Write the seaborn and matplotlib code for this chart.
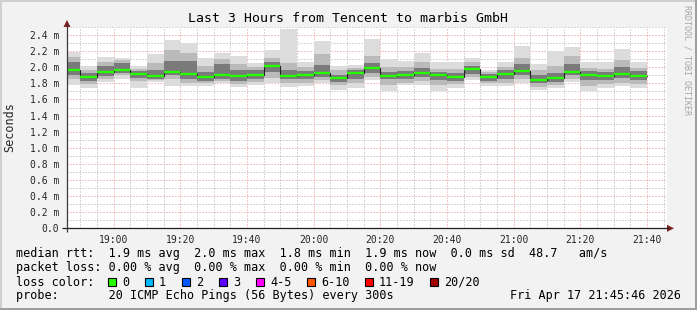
import matplotlib
matplotlib.use("Agg")
import matplotlib.pyplot as plt
import numpy as np
import pandas as pd
import seaborn as sns
from matplotlib.patches import Polygon, Rectangle

# ---------------- data ----------------
title = "Last 3 Hours from Tencent to marbis GmbH"
bin_start = ["18:45", "18:50", "18:55", "19:00", "19:05", "19:10", "19:15",
             "19:20", "19:25", "19:30", "19:35", "19:40", "19:45", "19:50",
             "19:55", "20:00", "20:05", "20:10", "20:15", "20:20", "20:25",
             "20:30", "20:35", "20:40", "20:45", "20:50", "20:55", "21:00",
             "21:05", "21:10", "21:15", "21:20", "21:25", "21:30", "21:35"]
rtt_max = [2.19, 2.01, 2.13, 2.12, 2.01, 2.16, 2.34, 2.30, 2.11, 2.18, 2.14, 2.05,
           2.21, 2.47, 2.07, 2.33, 2.01, 2.03, 2.35, 2.10, 2.08, 2.18, 2.06, 2.06,
           2.12, 1.965, 2.06, 2.26, 2.04, 2.20, 2.25, 2.07, 2.06, 2.23, 2.06]
rtt_p90 = [2.13, 1.97, 2.07, 2.09, 1.98, 2.05, 2.22, 2.18, 2.01, 2.10, 2.04, 2.00,
           2.12, 2.05, 2.00, 2.16, 1.96, 1.99, 2.14, 2.00, 2.00, 2.06, 1.98, 1.98,
           2.06, 1.94, 2.00, 2.12, 1.97, 2.02, 2.14, 1.99, 1.98, 2.09, 1.99]
rtt_p75 = [2.06, 1.93, 2.01, 2.05, 1.95, 1.97, 2.08, 2.08, 1.94, 2.04, 1.97, 1.96,
           2.06, 1.97, 1.95, 2.03, 1.91, 1.96, 2.05, 1.94, 1.95, 1.99, 1.94, 1.93,
           2.02, 1.92, 1.96, 2.04, 1.91, 1.93, 2.04, 1.95, 1.94, 2.00, 1.95]
rtt_median = [1.965, 1.878, 1.944, 1.965, 1.916, 1.891, 1.944, 1.916, 1.878, 1.903,
              1.891, 1.903, 2.015, 1.895, 1.903, 1.932, 1.866, 1.925, 1.990, 1.891,
              1.905, 1.932, 1.905, 1.878, 1.978, 1.878, 1.918, 1.955, 1.842, 1.866,
              1.940, 1.905, 1.891, 1.918, 1.891]
rtt_p25 = [1.90, 1.83, 1.89, 1.93, 1.87, 1.86, 1.90, 1.86, 1.83, 1.86, 1.83, 1.86,
           1.94, 1.85, 1.86, 1.88, 1.82, 1.86, 1.93, 1.85, 1.86, 1.88, 1.84, 1.83,
           1.92, 1.83, 1.86, 1.91, 1.80, 1.82, 1.90, 1.84, 1.84, 1.87, 1.84]
rtt_p10 = [1.85, 1.79, 1.85, 1.90, 1.83, 1.84, 1.86, 1.81, 1.80, 1.83, 1.79, 1.82,
           1.87, 1.81, 1.81, 1.84, 1.78, 1.81, 1.88, 1.78, 1.81, 1.83, 1.78, 1.79,
           1.88, 1.80, 1.81, 1.86, 1.76, 1.78, 1.86, 1.77, 1.79, 1.81, 1.79]
rtt_min = [1.78, 1.74, 1.82, 1.86, 1.74, 1.82, 1.77, 1.77, 1.77, 1.81, 1.75, 1.78,
           1.81, 1.76, 1.77, 1.80, 1.72, 1.74, 1.84, 1.71, 1.78, 1.78, 1.71, 1.74,
           1.84, 1.77, 1.77, 1.81, 1.72, 1.74, 1.82, 1.71, 1.74, 1.77, 1.74]
x_tick_labels = ["19:00", "19:20", "19:40", "20:00", "20:20", "20:40",
                 "21:00", "21:20", "21:40"]
y_ticks = [0.0, 0.2, 0.4, 0.6, 0.8, 1.0, 1.2, 1.4, 1.6, 1.8, 2.0, 2.2, 2.4]
y_tick_labels = ["0.0", "0.2 m", "0.4 m", "0.6 m", "0.8 m", "1.0 m", "1.2 m",
                 "1.4 m", "1.6 m", "1.8 m", "2.0 m", "2.2 m", "2.4 m"]
y_label = "Seconds"
legend_rows = [
    "median rtt:  1.9 ms avg  2.0 ms max  1.8 ms min  1.9 ms now  0.0 ms sd  48.7   am/s",
    "packet loss: 0.00 % avg  0.00 % max  0.00 % min  0.00 % now",
    "loss color:",
    "probe:       20 ICMP Echo Pings (56 Bytes) every 300s",
]
loss_labels = ["0", "1", "2", "3", "4-5", "6-10", "11-19", "20/20"]
loss_colors = ["#26ff00", "#00b8ff", "#0059ff", "#5e00ff", "#ff00ff",
               "#ff5500", "#ff0000", "#a10000"]
timestamp = "Fri Apr 17 21:45:46 2026"
credit = "RRDTOOL / TOBI OETIKER"

# ---------------- style ----------------
sns.set_style("white")
plt.rcParams['font.family'] = ['DejaVu Sans Mono', 'DejaVu Sans']

W, H = 697, 310
BG = "#f2f2f2"
fig = plt.figure(figsize=(W / 100, H / 100), dpi=100, facecolor=BG)

X0, X1 = 67.0, 667.0      # plot area pixels
Y0, Y1 = 228.3, 27.0
ax = fig.add_axes([X0 / W, 1 - Y0 / H, (X1 - X0) / W, (Y0 - Y1) / H])
ax.set_facecolor("white")

def to_min(s):
    h, m = s.split(":")
    return int(h) * 60 + int(m)

starts = np.array([to_min(s) for s in bin_start], dtype=float)
edges = np.append(starts, starts[-1] + 5)

def ext(a):
    return np.append(np.asarray(a, float), a[-1])

xmin, xmax = to_min("18:46"), to_min("21:46")
ax.set_xlim(xmin, xmax)
ax.set_ylim(0, 2.5)

# grid (behind data)
grid_c = "#b0b0b0"
mgrid_c = "#ee9090"
dash = (0, (1, 2))
for m in np.arange(to_min("18:50"), xmax + 0.1, 5):
    major = (m - to_min("19:00")) % 20 == 0
    ax.axvline(m, color=mgrid_c if major else grid_c, lw=0.72, ls=dash, zorder=0)
for v in np.arange(0.1, 2.51, 0.1):
    major = abs(round(v * 10) % 2) == 0
    ax.axhline(v, color=mgrid_c if major else grid_c, lw=0.72, ls=dash, zorder=0)

# smoke
ax.fill_between(edges, ext(rtt_min), ext(rtt_max), step="post",
                color="#dcdcdc", lw=0, zorder=1)
ax.fill_between(edges, ext(rtt_p10), ext(rtt_p90), step="post",
                color="#bababa", lw=0, zorder=1.1)
ax.fill_between(edges, ext(rtt_p25), ext(rtt_p75), step="post",
                color="#7a7a7a", lw=0, zorder=1.2)

# median: dark step line + green bands
df = pd.DataFrame({"t": edges, "median": ext(rtt_median)})
sns.lineplot(data=df, x="t", y="median", drawstyle="steps-post",
             color="#202020", lw=0.8, ax=ax, zorder=2)
ax.hlines(rtt_median, starts, starts + 5, colors=loss_colors[0], lw=1.7, zorder=3)

# ticks
for s in ax.spines.values():
    s.set_visible(False)
ax.set_xticks([to_min(s) for s in x_tick_labels])
ax.set_xticklabels(x_tick_labels, fontsize=7)
ax.set_yticks(y_ticks)
ax.set_yticklabels(y_tick_labels, fontsize=7)
ax.tick_params(axis="y", length=3, width=0.72, color="#888888", pad=2.5, direction="out")
ax.tick_params(axis="x", length=0, pad=5)
ax.set_xlabel("")
ax.set_ylabel("")

# ---------------- overlay decorations ----------------
ov = fig.add_axes([0, 0, 1, 1], facecolor="none", zorder=10)
ov.set_xlim(0, W)
ov.set_ylim(H, 0)
ov.axis("off")

# frame shading
ov.add_patch(Rectangle((0, 0), W, 2, color="#cfcfcf", lw=0))
ov.add_patch(Rectangle((0, 0), 2, H, color="#cfcfcf", lw=0))
ov.add_patch(Rectangle((0, H - 2), W, 2, color="#9e9e9e", lw=0))
ov.add_patch(Rectangle((W - 2, 0), 2, H, color="#9e9e9e", lw=0))

# axes lines and arrows
ov.plot([62, 669], [Y0, Y0], color="#1f1f1f", lw=0.9, solid_capstyle="butt")
ov.plot([X0, X0], [Y0 + 4, 24], color="#3a3a3a", lw=0.9, solid_capstyle="butt")
ov.add_patch(Polygon([[X0 - 3.5, 27], [X0 + 3.5, 27], [X0, 20]], closed=True,
                     color="#801f1f", lw=0))
ov.add_patch(Polygon([[667, Y0 - 3.5], [667, Y0 + 3.5], [674, Y0]], closed=True,
                     color="#801f1f", lw=0))

# title
ov.text(348, 19, title, fontsize=9.5, ha="center", va="center", color="black")
# y label
ov.text(10, 127, y_label, fontsize=8.5, rotation=90, ha="center", va="center")
# credit
ov.text(687, 5, credit, fontsize=6, rotation=270, ha="center", va="top",
        color="#a6a6a6")

# legend rows
row_y = [254, 268, 282, 296]
for txt, yy in zip(legend_rows, row_y):
    ov.text(16, yy, txt, fontsize=8.5, ha="left", va="center", color="black")
ov.text(681, 296, timestamp, fontsize=8.5, ha="right", va="center", color="black")

box_x = [108, 145, 182, 219, 256, 307, 365, 430]
for bx, lab, col in zip(box_x, loss_labels, loss_colors):
    ov.add_patch(Rectangle((bx, 278), 8, 8, facecolor=col, edgecolor="black", lw=0.8))
    ov.text(bx + 14, 282, lab, fontsize=8.5, ha="left", va="center", color="black")

fig.savefig("out.png", dpi=100, facecolor=BG)
